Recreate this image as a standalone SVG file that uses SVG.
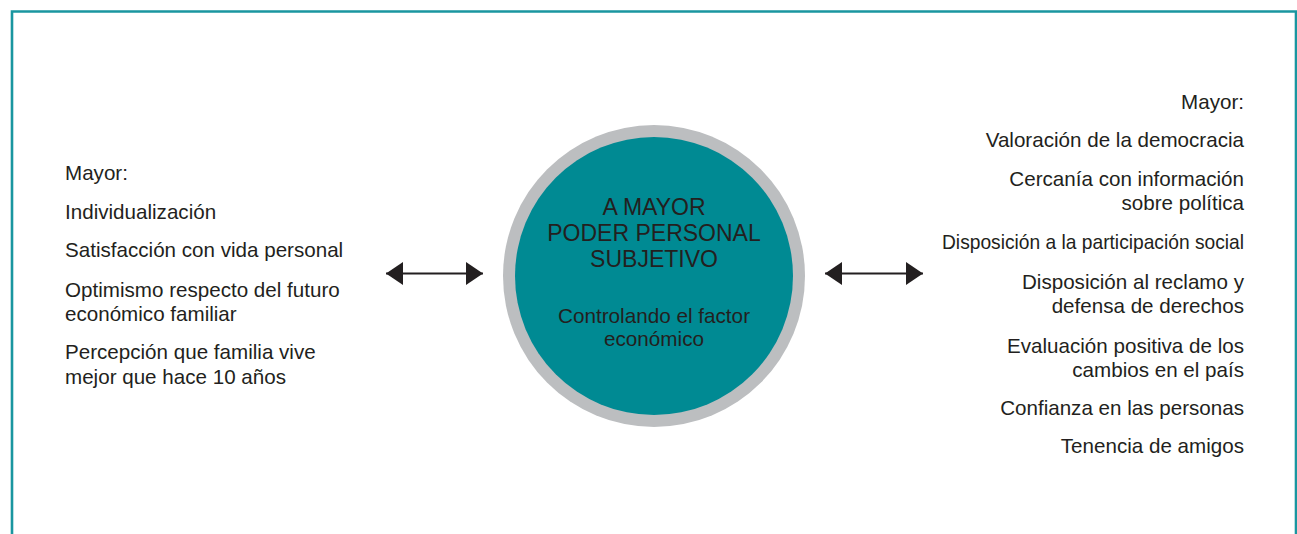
<svg xmlns="http://www.w3.org/2000/svg" width="1297" height="534" viewBox="0 0 1297 534">
<style>
.t{font-family:"Liberation Sans",Arial,sans-serif;fill:#231f20;font-size:20.6px}
.r{text-anchor:end}
.c{text-anchor:middle}
.big{font-size:23px}
.mid{font-size:20.7px}
.conn{stroke:#231f20;stroke-width:2;fill:none}
</style>
<defs>
<marker id="ah" markerUnits="userSpaceOnUse" markerWidth="18" markerHeight="24" refX="17" refY="11.5" orient="auto-start-reverse" viewBox="0 0 18 24">
<path d="M0,0 L17,11.5 L0,23 z" fill="#231f20"/>
</marker>
</defs>
<rect width="1297" height="534" fill="#ffffff"/>
<path d="M12,534 V11.5 H1296 V534" fill="none" stroke="#1a96a0" stroke-width="2.6"/>
<g id="center-node">
<circle cx="654" cy="276" r="151" fill="#bcbec0"/>
<circle cx="654" cy="276" r="139" fill="#008a93"/>
<text class="t c big" x="654" y="215">A MAYOR</text>
<text class="t c big" x="654" y="241">PODER PERSONAL</text>
<text class="t c big" x="654" y="267">SUBJETIVO</text>
<text class="t c mid" x="654" y="323">Controlando el factor</text>
<text class="t c mid" x="654" y="346">económico</text>
</g>
<g id="left-node">
<text class="t" x="65" y="180">Mayor:</text>
<text class="t" x="65" y="219">Individualización</text>
<text class="t" x="65" y="257">Satisfacción con vida personal</text>
<text class="t" x="65" y="297">Optimismo respecto del futuro</text>
<text class="t" x="65" y="321">económico familiar</text>
<text class="t" x="65" y="359">Percepción que familia vive</text>
<text class="t" x="65" y="384">mejor que hace 10 años</text>
</g>
<g id="right-node">
<text class="t r" x="1244" y="109">Mayor:</text>
<text class="t r" x="1244" y="147">Valoración de la democracia</text>
<text class="t r" x="1244" y="186">Cercanía con información</text>
<text class="t r" x="1244" y="210">sobre política</text>
<text class="t r" x="1244" y="249" textLength="302" lengthAdjust="spacingAndGlyphs">Disposición a la participación social</text>
<text class="t r" x="1244" y="289">Disposición al reclamo y</text>
<text class="t r" x="1244" y="313">defensa de derechos</text>
<text class="t r" x="1244" y="353">Evaluación positiva de los</text>
<text class="t r" x="1244" y="377">cambios en el país</text>
<text class="t r" x="1244" y="415">Confianza en las personas</text>
<text class="t r" x="1244" y="453">Tenencia de amigos</text>
</g>
<g id="connectors">
<line class="conn" x1="386" y1="273.5" x2="483" y2="273.5" marker-start="url(#ah)" marker-end="url(#ah)"/>
<line class="conn" x1="825" y1="273.5" x2="923" y2="273.5" marker-start="url(#ah)" marker-end="url(#ah)"/>
</g>
</svg>
